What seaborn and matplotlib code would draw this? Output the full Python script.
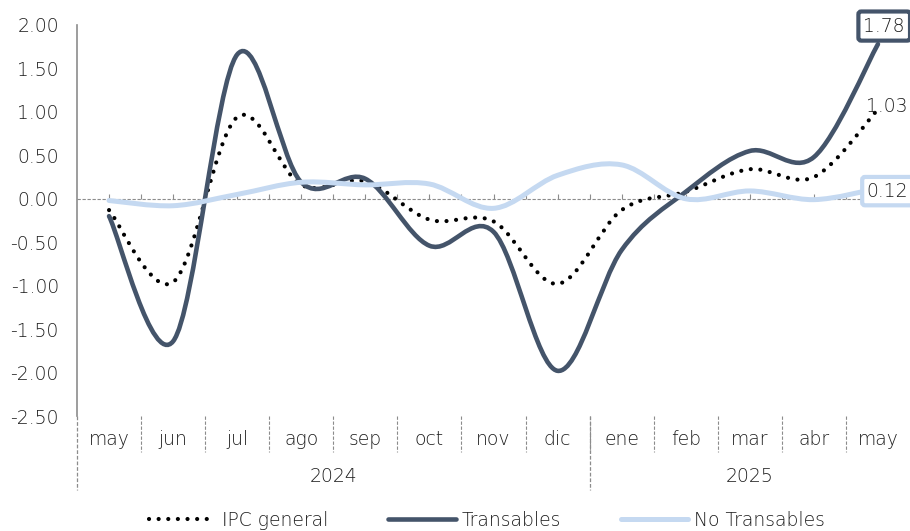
import numpy as np
import matplotlib
matplotlib.use("Agg")
import matplotlib.pyplot as plt
import matplotlib.transforms as mtransforms
from matplotlib.path import Path
from matplotlib.patches import PathPatch
from matplotlib.lines import Line2D
import seaborn as sns

# ------------------------------------------------------------
# data
# ------------------------------------------------------------
months = ["may", "jun", "jul", "ago", "sep", "oct", "nov", "dic",
          "ene", "feb", "mar", "abr", "may"]
years = ["2024", "2025"]
year_first_month = [0, 8]          # index of first month of each year

ipc_general = [-0.13, -0.96, 0.94, 0.16, 0.20, -0.24, -0.26, -0.98,
               -0.13, 0.08, 0.34, 0.25, 1.03]
transables = [-0.20, -1.64, 1.66, 0.19, 0.23, -0.54, -0.38, -1.98,
              -0.59, 0.08, 0.55, 0.48, 1.78]
no_transables = [-0.02, -0.08, 0.05, 0.19, 0.16, 0.17, -0.11, 0.27,
                 0.39, 0.00, 0.09, -0.01, 0.12]

y_ticks = [-2.5, -2.0, -1.5, -1.0, -0.5, 0.0, 0.5, 1.0, 1.5, 2.0]

DARK = "#44546A"
LIGHT = "#C5D9F1"
GRAY = "#8C8C8C"
TEXT = "#1E1E1E"
FS = 13.5

sns.set_style("white")
plt.rcParams["font.family"] = ["DejaVu Sans"]
plt.rcParams["font.weight"] = "light"


def smooth_path(xs, ys):
    """Excel-like smoothed line: cubic bezier segments with catmull-rom tangents."""
    pts = list(zip(xs, ys))
    n = len(pts)
    verts = [pts[0]]
    codes = [Path.MOVETO]
    for i in range(n - 1):
        p0 = pts[max(i - 1, 0)]
        p1 = pts[i]
        p2 = pts[i + 1]
        p3 = pts[min(i + 2, n - 1)]
        c1 = (p1[0] + (p2[0] - p0[0]) / 6, p1[1] + (p2[1] - p0[1]) / 6)
        c2 = (p2[0] - (p3[0] - p1[0]) / 6, p2[1] - (p3[1] - p1[1]) / 6)
        verts += [c1, c2, p2]
        codes += [Path.CURVE4] * 3
    return Path(verts, codes)


fig = plt.figure(figsize=(9.1, 5.31), dpi=100)
ax = fig.add_axes([77 / 910, 115 / 531, 833 / 910, 391 / 531])

x = np.arange(len(months))
ax.set_xlim(-0.5, len(months) - 0.5)
ax.set_ylim(-2.5, 2.0)

# zero line with small ticks every half month
ax.axhline(0, color=GRAY, lw=0.8, ls=(0, (3, 1.5)), zorder=1)
ax.vlines(np.arange(0, len(months) - 0.9, 0.5), 0, 0.055, color=GRAY, lw=0.8, zorder=1)

# series (excel order: ipc at the back, no transables on top)
DOTS = (0, (0.01, 2.3))
series = [
    (ipc_general, dict(edgecolor="black", lw=3.0, linestyle=DOTS, capstyle="round")),
    (transables, dict(edgecolor=DARK, lw=3.3, capstyle="round")),
    (no_transables, dict(edgecolor=LIGHT, lw=3.6, capstyle="round")),
]
for i, (vals, style) in enumerate(series):
    patch = PathPatch(smooth_path(x, vals), facecolor="none", zorder=2 + i, **style)
    ax.add_patch(patch)

# end labels
last = len(months) - 1
ax.annotate(f"{transables[-1]:.2f}", (last, transables[-1]), xytext=(4.5, 13),
            textcoords="offset points", ha="center", va="center", fontsize=FS, color=TEXT,
            bbox=dict(boxstyle="round,pad=0.27,rounding_size=0.15", fc="white", ec=DARK, lw=3),
            zorder=10)
ax.annotate(f"{ipc_general[-1]:.2f}", (last, ipc_general[-1]), xytext=(6.5, 2),
            textcoords="offset points", ha="center", va="center", fontsize=FS, color=TEXT,
            zorder=10)
ax.annotate(f"{no_transables[-1]:.2f}", (last, no_transables[-1]), xytext=(7, -2),
            textcoords="offset points", ha="center", va="center", fontsize=FS, color=TEXT,
            bbox=dict(boxstyle="round,pad=0.25,rounding_size=0.15", fc="white", ec=LIGHT, lw=3),
            zorder=10, annotation_clip=False)

# axes styling
ax.set_yticks(y_ticks)
ax.set_yticklabels([f"{v:.2f}" for v in y_ticks])
ax.set_xticks([])
ax.tick_params(axis="y", direction="out", length=5, width=1, color=GRAY,
               labelsize=FS, labelcolor=TEXT, pad=8)
sns.despine(ax=ax, top=True, right=True, bottom=True, left=False)
ax.spines["left"].set_color(GRAY)
ax.spines["left"].set_linewidth(1.2)

# category axis: months, separators, years
trans = mtransforms.blended_transform_factory(ax.transData, ax.transAxes)
for i, m in enumerate(months):
    ax.text(i, -0.061, m, transform=trans, ha="center", va="center",
            fontsize=FS, color=TEXT, clip_on=False)
for b in np.arange(0.5, len(months) - 1, 1.0):
    ax.plot([b, b], [0, -0.092], transform=trans, color=GRAY, lw=0.8,
            ls=(0, (3, 1.5)), clip_on=False)
bounds = year_first_month + [len(months)]
for k, yr in enumerate(years):
    lo, hi = bounds[k] - 0.5, bounds[k + 1] - 0.5
    ax.text((lo + hi) / 2, -0.156, yr, transform=trans, ha="center", va="center",
            fontsize=FS, color=TEXT, clip_on=False)
    ax.plot([lo, lo], [0, -0.189], transform=trans, color=GRAY, lw=0.9,
            ls=(0, (3, 1.5)), clip_on=False)

# legend
handles = [
    Line2D([], [], color="black", lw=3.0, ls=DOTS, dash_capstyle="round"),
    Line2D([], [], color=DARK, lw=3.3, solid_capstyle="round"),
    Line2D([], [], color=LIGHT, lw=3.6, solid_capstyle="round"),
]
fig.legend(handles, ["IPC general", "Transables", "No Transables"], loc="center",
           bbox_to_anchor=(0.535, 11 / 531), ncol=3, frameon=False, fontsize=FS,
           handlelength=3.6, handletextpad=0.3, columnspacing=3.2, labelcolor=TEXT)

fig.savefig("out.png", dpi=100)
plt.close(fig)
